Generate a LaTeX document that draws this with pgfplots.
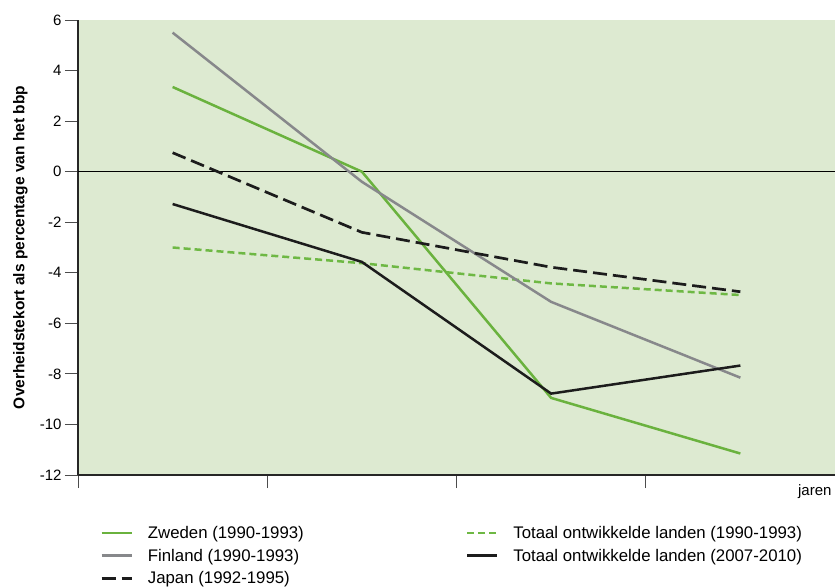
\documentclass[border=0pt]{standalone}
\usepackage{fontspec}
\setmainfont{Liberation Sans}
\usepackage{pgfplots}
\pgfplotsset{compat=1.18}

\definecolor{bgcol}{RGB}{221,234,209}
\definecolor{zweden}{RGB}{106,178,62}
\definecolor{finland}{RGB}{135,136,139}
\definecolor{totgreen}{RGB}{110,184,68}
\definecolor{dark}{RGB}{28,28,28}

\begin{document}
\begin{tikzpicture}
  % page = 835 x 587, axis box at (78,20)-(835,475) in image pixels
  \useasboundingbox (-78pt,-112pt) rectangle (757pt,475pt);
  \begin{axis}[
      at={(0pt,0pt)}, anchor=south west,
      scale only axis,
      width=757pt, height=455pt,
      xmin=0, xmax=4,
      ymin=-12, ymax=6,
      axis lines*=left,
      axis line style={-, line width=1.1pt, color=black!85},
      axis background/.style={fill=bgcol},
      xtick={0,1,2,3,4},
      xticklabels={},
      ytick={-12,-10,...,6},
      tick align=outside,
      major tick length=13pt,
      major tick style={line width=0.9pt, color=black!70},
      tick label style={font=\fontsize{15}{18}\selectfont,
        /pgf/number format/assume math mode=true},
      yticklabel style={anchor=east, xshift=0pt},
      ylabel={Overheidstekort als percentage van het bbp},
      every axis y label/.style={at={(rel axis cs:0,0.5)},
        xshift=-53.5pt, rotate=90, anchor=base,
        font=\fontsize{15.5}{18}\selectfont\bfseries},
      xlabel={jaren},
      every axis x label/.style={at={(rel axis cs:1,0)}, anchor=base east,
        yshift=-20pt, font=\fontsize{15}{18}\selectfont},
      legend columns=2,
      legend cell align=left,
      legend image code/.code={\draw[#1] (0pt,0pt) -- (30pt,0pt);},
      legend style={draw=none, fill=none,
        at={(rel axis cs:0,0)}, anchor=north west,
        xshift=19pt, yshift=-47pt,
        font=\fontsize{16.8}{19}\selectfont,
        row sep=5pt,
        /tikz/every odd column/.append style={column sep=13pt},
        /tikz/every even column/.append style={column sep=160pt}},
    ]
    % zero line
    \addplot[black, line width=1pt, forget plot] coordinates {(0,0) (4,0)};

    \addplot[zweden, line width=2.5pt] coordinates {
      (0.5,3.35) (1.5,0.0) (2.5,-8.95) (3.5,-11.15)};
    \addlegendentry{Zweden (1990-1993)}

    \addplot[totgreen, line width=2.5pt, dash pattern=on 7pt off 4pt] coordinates {
      (0.5,-3.0) (1.5,-3.62) (2.5,-4.42) (3.5,-4.88)};
    \addlegendentry{Totaal ontwikkelde landen (1990-1993)}

    \addplot[finland, line width=2.5pt] coordinates {
      (0.5,5.5) (1.5,-0.4) (2.5,-5.15) (3.5,-8.15)};
    \addlegendentry{Finland (1990-1993)}

    \addplot[dark, line width=2.5pt] coordinates {
      (0.5,-1.28) (1.5,-3.57) (2.5,-8.78) (3.5,-7.67)};
    \addlegendentry{Totaal ontwikkelde landen (2007-2010)}

    \addplot[dark, line width=2.7pt, dash pattern=on 14pt off 6pt] coordinates {
      (0.5,0.75) (1.5,-2.4) (2.5,-3.78) (3.5,-4.75)};
    \addlegendentry{Japan (1992-1995)}
  \end{axis}
\end{tikzpicture}
\end{document}
